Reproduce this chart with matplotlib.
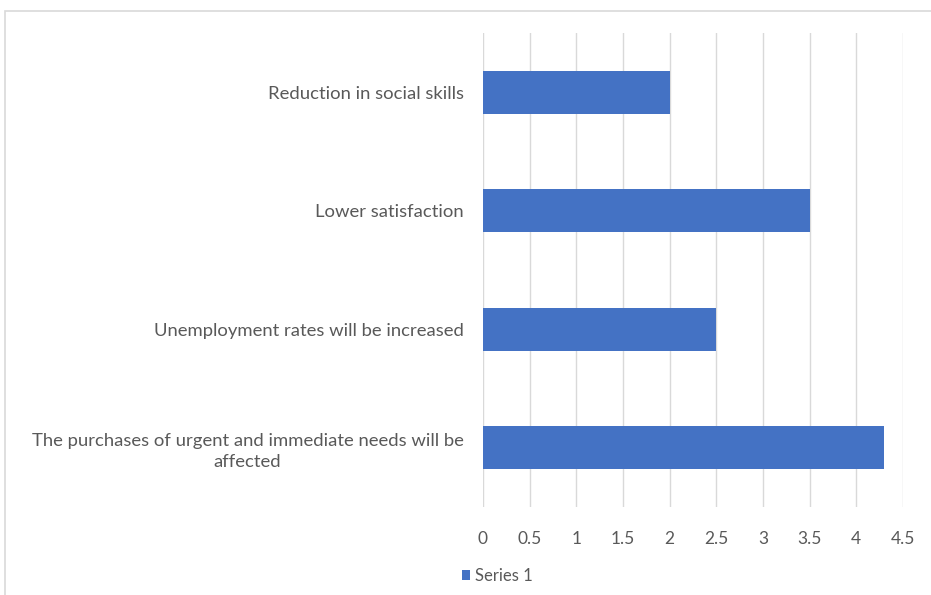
import matplotlib.pyplot as plt
from matplotlib.patches import Rectangle

categories = [
    "The purchases of urgent and immediate needs will be\naffected",
    "Unemployment rates will be increased",
    "Lower satisfaction",
    "Reduction in social skills",
]
values = [4.3, 2.5, 3.5, 2.0]
xticks = [0, 0.5, 1, 1.5, 2, 2.5, 3, 3.5, 4, 4.5]
xtick_labels = ["0", "0.5", "1", "1.5", "2", "2.5", "3", "3.5", "4", "4.5"]
series_name = "Series 1"

plt.rcParams["font.family"] = ["Lato", "DejaVu Sans"]
text_color = "#595959"

fig = plt.figure(figsize=(9.31, 5.95), dpi=100)
fig.patch.set_facecolor("white")

# outer chart frame (cropped on right/bottom)
fig.patches.append(
    Rectangle((5 / 931, -0.05), 1.2, 1 - 11 / 595 + 0.05,
              transform=fig.transFigure, fill=False,
              edgecolor="#d9d9d9", linewidth=1.2)
)

ax = fig.add_axes([483 / 931, 1 - 507 / 595, 420 / 931, (507 - 33) / 595])

bars = ax.barh(range(len(categories)), values, height=0.36,
               color="#4472C4", label=series_name, zorder=3)

ax.set_xlim(0, 4.5)
ax.set_ylim(-0.5, 3.5)
ax.set_xticks(xticks)
ax.set_xticklabels(xtick_labels)
ax.set_yticks(range(len(categories)))

ax.tick_params(axis="both", length=0, colors=text_color)
ax.tick_params(axis="x", pad=17, labelsize=12.5)
ax.tick_params(axis="y", pad=14)
ax.set_yticklabels(categories, multialignment="center", fontsize=13.3,
                   linespacing=1.35)

ax.grid(axis="x", color="#d9d9d9", linewidth=1, zorder=0)
for s in ax.spines.values():
    s.set_visible(False)

ax.legend(loc="lower left", bbox_to_anchor=(447 / 931, -4 / 595),
          bbox_transform=fig.transFigure, frameon=False,
          fontsize=12, labelcolor=text_color, handlelength=0.5,
          handleheight=0.5, handletextpad=0.3)

fig.savefig("out.png", dpi=100, facecolor="white")
